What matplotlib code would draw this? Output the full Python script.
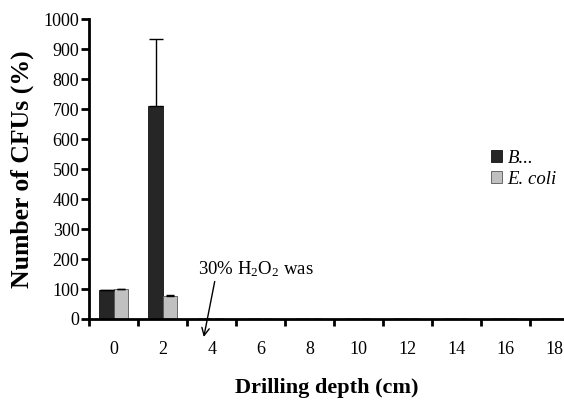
import numpy as np
import matplotlib
matplotlib.use("Agg")
import matplotlib.pyplot as plt

plt.rcParams['font.family'] = ['Liberation Serif', 'DejaVu Serif']
plt.rcParams['mathtext.fontset'] = 'custom'
plt.rcParams['mathtext.rm'] = 'Liberation Serif'
plt.rcParams['mathtext.it'] = 'Liberation Serif:italic'

# data
depths = ['0', '2', '4', '6', '8', '10', '12', '14', '16', '18']
b_vals = [97, 710, 0, 0, 0, 0, 0, 0, 0, 0]
b_err = [0, 225, 0, 0, 0, 0, 0, 0, 0, 0]
ecoli_vals = [100, 77, 0, 0, 0, 0, 0, 0, 0, 0]
ecoli_err = [0, 4, 0, 0, 0, 0, 0, 0, 0, 0]

fig = plt.figure(figsize=(5.64, 4.01), dpi=100)
ax = fig.add_axes([0.158, 0.2045, 0.842, 0.748])

x = np.arange(len(depths))
w = 0.29
ax.bar(x - w / 2, b_vals, w, color='#262626', edgecolor='#111111', linewidth=0.6,
       label='B...', yerr=[np.zeros(len(b_err)), b_err],
       error_kw=dict(ecolor='black', elinewidth=1, capsize=5, capthick=1))
ax.bar(x + w / 2, ecoli_vals, w, color='#c0c0c0', edgecolor='#555555', linewidth=0.6,
       label='E. coli', yerr=[np.zeros(len(ecoli_err)), ecoli_err],
       error_kw=dict(ecolor='black', elinewidth=1, capsize=3, capthick=1))

ax.set_ylim(0, 1000)
ax.set_xlim(-0.5, 9.19)
ax.set_yticks(np.arange(0, 1001, 100))
ax.set_xticks(x)
ax.set_xticklabels(depths)
ax.set_xticks(np.arange(-0.5, 9.5, 1), minor=True)
ax.tick_params(axis='x', which='major', length=0, pad=16, labelsize=13)
ax.tick_params(axis='x', which='minor', length=5, width=2, direction='out')
ax.tick_params(axis='y', length=6, width=2, direction='out', labelsize=13, pad=1)

for s in ['top', 'right']:
    ax.spines[s].set_visible(False)
for s in ['left', 'bottom']:
    ax.spines[s].set_linewidth(2)

ax.set_ylabel('Number of CFUs (%)', fontsize=18.5, fontweight='bold', labelpad=7)
ax.set_xlabel('Drilling depth (cm)', fontsize=16, fontweight='bold', labelpad=14)

ax.annotate('30% H$_2$O$_2$ was', xy=(1.84, -60), xytext=(1.72, 150),
            fontsize=13.5, annotation_clip=False,
            arrowprops=dict(arrowstyle='->', color='black', lw=1,
                            shrinkA=0, shrinkB=0, relpos=(0.15, 0)))

leg = ax.legend(loc='upper left', bbox_to_anchor=(0.81, 0.62), frameon=False,
                handlelength=0.6, handleheight=0.6,
                handletextpad=0.3, labelspacing=0.2, prop={'style': 'italic', 'size': 13.5})

fig.savefig('out.png', dpi=100)
